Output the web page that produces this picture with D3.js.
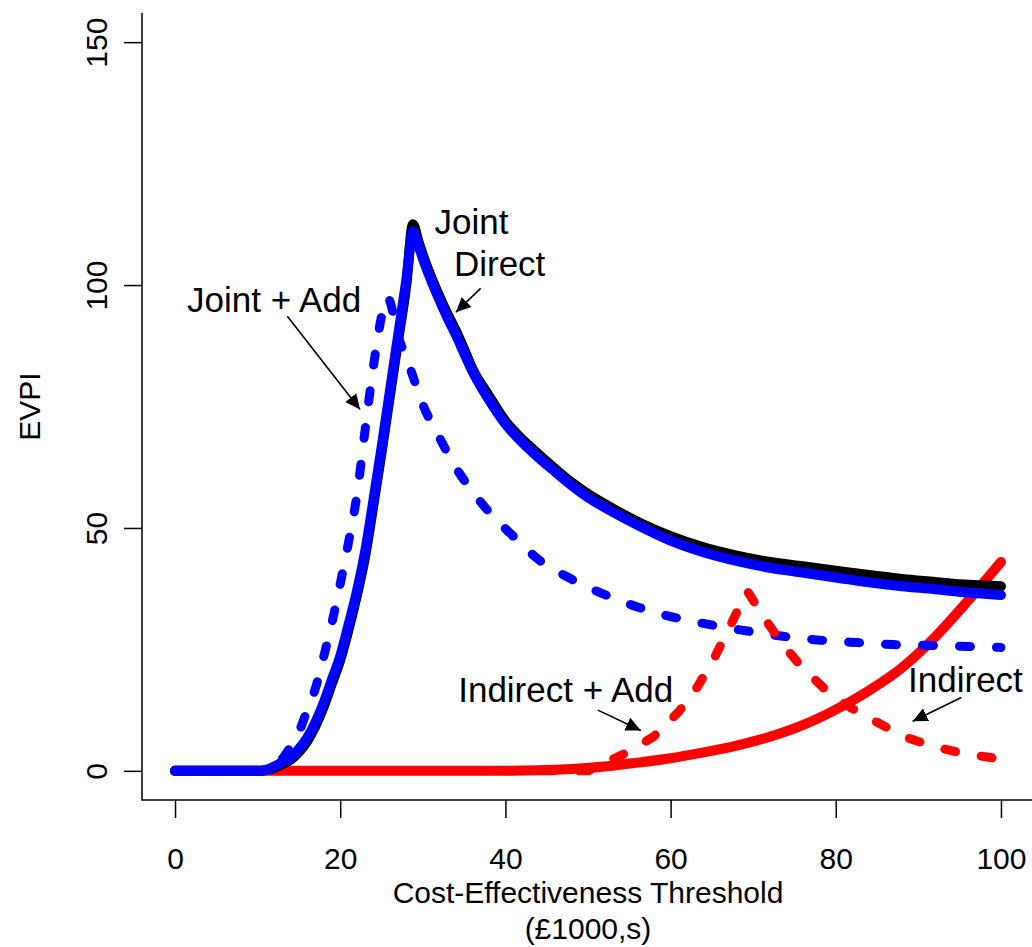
<!DOCTYPE html>
<html lang="en">
<head>
<meta charset="UTF-8">
<title>EVPI by cost-effectiveness threshold</title>
<script src="https://cdn.jsdelivr.net/npm/d3@7"></script>
<style>
  body { margin: 0; background: #fff; }
  svg { display: block; font-family: "Liberation Sans", Arial, sans-serif; }
</style>
</head>
<body>
<svg width="1032" height="947"></svg>
<script>
// threshold (£1000s) shared by the two solid joint/direct curves
const solidX = [0, 5, 10, 11, 12, 13, 14, 15, 16, 17, 18, 19, 20, 21, 22, 23, 24, 25, 26, 27, 28, 28.8, 29.5, 30,
  31, 32, 33, 34, 35, 36, 38, 40, 42, 44, 46, 48, 50, 53, 56, 60, 64, 68, 72, 76, 80, 84, 88, 92, 96, 100];
const jointY = [0, 0, 0, 0.1, 0.6, 1.4, 2.3, 3.9, 6.1, 9.2, 13.2, 18, 22.8, 29, 36, 44, 54.5, 65.5, 77, 88.5, 100, 112.5, 108.8, 106.2,
  101.7, 97.7, 94, 90.6, 86.8, 82.8, 77.2, 72, 68.3, 65.2, 62.2, 59.4, 57, 54, 51.3, 48.3, 46, 44.3, 43, 42.1, 41.2, 40.3, 39.5, 38.9, 38.3, 38];
const directY = [0, 0, 0, 0.2, 0.9, 1.8, 2.7, 4.5, 6.8, 10, 14, 18.8, 23.6, 30, 36.8, 45, 55.5, 66.5, 78, 89.5, 101, 111, 108, 105.5,
  101, 97, 93.2, 89.8, 86, 82.3, 76.4, 71.4, 67.7, 64.5, 61.6, 58.8, 56.3, 53.3, 50.6, 47.4, 45, 43.2, 41.8, 40.8, 39.8, 38.8, 38, 37.4, 36.7, 36.2];

// indirect (red solid)
const indirectX = [0, 10, 20, 30, 40, 44, 48, 52, 56, 60, 64, 68, 72, 76, 80, 84, 88, 92, 96, 100];
const indirectY = [0, 0, 0, 0, 0, 0.1, 0.4, 0.9, 1.7, 2.6, 3.8, 5.2, 7, 9.4, 12.6, 16.5, 21.2, 27.5, 35, 43];

// joint + additional (blue dashed)
const jointAddX = [0, 10, 11, 12, 13, 14, 15, 16, 17, 18, 19, 20, 21, 22, 23, 24, 25, 25.7, 27.1, 28.5, 30, 31.8, 33.9, 36.1, 38.5,
  41.4, 44, 47.4, 50.5, 54.1, 57.7, 61.5, 65.7, 69.6, 73.6, 78.1, 82.6, 86.9, 91.4, 96, 100];
const jointAddY = [0, 0, 0.3, 1, 2.5, 5, 8, 12.5, 17, 23.5, 30.5, 38.5, 47, 56.5, 70, 83, 93.5, 97.5, 89, 82.7, 75.4, 69.3, 62.7, 57.3, 52.4,
  47.6, 43.5, 40, 37.4, 34.9, 32.8, 31.2, 29.8, 28.7, 27.7, 26.9, 26.4, 26, 25.8, 25.6, 25.4];

// indirect + additional (red dashed)
const indirectAddX = [40, 50, 51.5, 53, 55, 58, 61, 63.3, 65.4, 67.2, 69.3, 71.2, 73.6, 75.9, 78.7, 81.7, 85, 88.2, 91.8, 95.4, 100];
const indirectAddY = [0, 0, 1.2, 2.4, 4, 7.1, 12.2, 17.4, 23.6, 29.8, 37, 31.8, 26, 21.3, 16.8, 13.1, 10, 7.1, 5, 3.6, 2.4];

const xTicks = [0, 20, 40, 60, 80, 100];
const yTicks = [0, 50, 100, 150];

// text labels (centre x, baseline y) and arrows, in data units
const labels = [
  { text: "Joint", x: 35.9, y: 110.5 },
  { text: "Direct", x: 39.3, y: 101.8 },
  { text: "Joint + Add", x: 12.0, y: 94.4 },
  { text: "Indirect + Add", x: 47.3, y: 14.1 },
  { text: "Indirect", x: 95.7, y: 16.2 }
];
const arrows = [
  { x1: 37.0, y1: 99.3, x2: 34.0, y2: 94.4 },
  { x1: 13.6, y1: 93.6, x2: 22.4, y2: 74.4 },
  { x1: 51.2, y1: 12.5, x2: 56.4, y2: 8.3 },
  { x1: 95.2, y1: 15.1, x2: 89.3, y2: 10.2 }
];

const svg = d3.select("svg");
const plot = { left: 142, right: 1034, top: 13, bottom: 800 };

// R style 4% padding around 0-100 and 0-150
const x = d3.scaleLinear().domain([-4, 104]).range([plot.left, plot.right]);
const y = d3.scaleLinear().domain([-6, 156]).range([plot.bottom, plot.top]);

const zip = (xs, ys) => xs.map((v, i) => [v, ys[i]]);
const line = d3.line().x(d => x(d[0])).y(d => y(d[1]));
const smooth = d3.line().x(d => x(d[0])).y(d => y(d[1])).curve(d3.curveMonotoneX);

svg.append("defs").append("marker")
  .attr("id", "head")
  .attr("markerUnits", "userSpaceOnUse")
  .attr("viewBox", "0 -8 16 16")
  .attr("markerWidth", 16).attr("markerHeight", 16)
  .attr("refX", 15).attr("refY", 0)
  .attr("orient", "auto")
  .append("path")
  .attr("d", "M0,-7L15,0L0,7Z")
  .attr("fill", "#000");

// curves
const curves = [
  { pts: zip(indirectX, indirectY), color: "#ff0000", dash: null, gen: smooth },
  { pts: zip(solidX, jointY), color: "#000000", dash: null, gen: smooth },
  { pts: zip(solidX, directY), color: "#0000ff", dash: null, gen: smooth },
  { pts: zip(jointAddX, jointAddY), color: "#0000ff", dash: "11,26", gen: smooth },
  { pts: zip(indirectAddX, indirectAddY), color: "#ff0000", dash: "11,26", gen: line }
];

svg.append("g").selectAll("path")
  .data(curves)
  .join("path")
  .attr("d", d => d.gen(d.pts))
  .attr("fill", "none")
  .attr("stroke", d => d.color)
  .attr("stroke-width", d => d.dash ? 9 : 10)
  .attr("stroke-dasharray", d => d.dash)
  .attr("stroke-linecap", "round")
  .attr("stroke-linejoin", "round");

// axes
const xAxis = svg.append("g")
  .attr("transform", `translate(0,${plot.bottom})`)
  .call(d3.axisBottom(x).tickValues(xTicks).tickSize(18).tickFormat(d3.format("d")));
xAxis.select(".domain").remove();
xAxis.selectAll("line").attr("stroke-width", 1.5);
xAxis.selectAll("text")
  .attr("y", 69).attr("dy", null)
  .attr("font-size", 30).attr("fill", "#000");
xAxis.attr("font-family", null).attr("font-size", null);

const yAxis = svg.append("g")
  .attr("transform", `translate(${plot.left},0)`)
  .call(d3.axisLeft(y).tickValues(yTicks).tickSize(18).tickFormat(d3.format("d")));
yAxis.select(".domain").remove();
yAxis.selectAll("line").attr("stroke-width", 1.5);
yAxis.selectAll("text")
  .attr("x", null).attr("dy", null)
  .attr("transform", "translate(-35,0) rotate(-90)")
  .attr("text-anchor", "middle")
  .attr("font-size", 30).attr("fill", "#000");
yAxis.attr("font-family", null).attr("font-size", null);

// L-shaped frame
svg.append("path")
  .attr("d", `M${plot.left},${plot.top}V${plot.bottom}H${plot.right}`)
  .attr("fill", "none")
  .attr("stroke", "#000")
  .attr("stroke-width", 1.5);

// axis titles
svg.append("text")
  .attr("x", (plot.left + plot.right) / 2).attr("y", 903)
  .attr("text-anchor", "middle").attr("font-size", 30)
  .text("Cost-Effectiveness Threshold");
svg.append("text")
  .attr("x", (plot.left + plot.right) / 2).attr("y", 939)
  .attr("text-anchor", "middle").attr("font-size", 30)
  .text("(£1000,s)");
svg.append("text")
  .attr("transform", `translate(40,${(plot.top + plot.bottom) / 2}) rotate(-90)`)
  .attr("text-anchor", "middle").attr("font-size", 30)
  .text("EVPI");

// annotations
svg.append("g").selectAll("text")
  .data(labels)
  .join("text")
  .attr("x", d => x(d.x)).attr("y", d => y(d.y))
  .attr("text-anchor", "middle")
  .attr("font-size", 35)
  .text(d => d.text);

svg.append("g").selectAll("line")
  .data(arrows)
  .join("line")
  .attr("x1", d => x(d.x1)).attr("y1", d => y(d.y1))
  .attr("x2", d => x(d.x2)).attr("y2", d => y(d.y2))
  .attr("stroke", "#000")
  .attr("stroke-width", 1.6)
  .attr("marker-end", "url(#head)");
</script>
</body>
</html>
